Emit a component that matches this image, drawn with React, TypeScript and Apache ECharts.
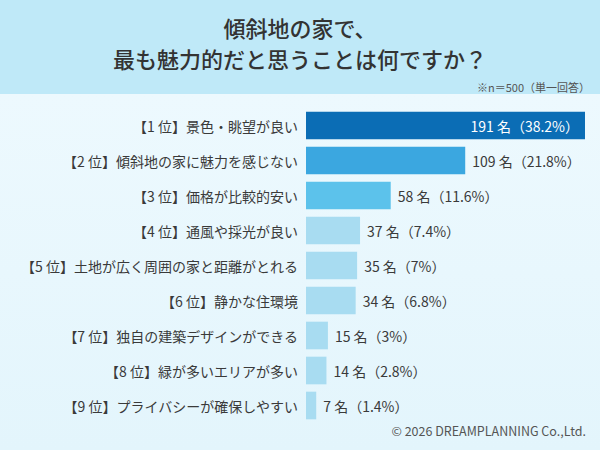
import React, { useEffect, useRef } from "react";
import * as echarts from "echarts";

const categories = [
  "【1 位】景色・眺望が良い",
  "【2 位】傾斜地の家に魅力を感じない",
  "【3 位】価格が比較的安い",
  "【4 位】通風や採光が良い",
  "【5 位】土地が広く周囲の家と距離がとれる",
  "【6 位】静かな住環境",
  "【7 位】独自の建築デザインができる",
  "【8 位】緑が多いエリアが多い",
  "【9 位】プライバシーが確保しやすい",
];
const counts = [191, 109, 58, 37, 35, 34, 15, 14, 7];
const percents = [38.2, 21.8, 11.6, 7.4, 7, 6.8, 3, 2.8, 1.4];
const barColors = [
  "#0b6db5",
  "#3ba7e0",
  "#5cc2eb",
  "#a8dcf1",
  "#a8dcf1",
  "#a8dcf1",
  "#a8dcf1",
  "#a8dcf1",
  "#a8dcf1",
];
const titleLines = ["傾斜地の家で、", "最も魅力的だと思うことは何ですか？"];
const noteText = "※n＝500（単一回答）";
const footerText = "© 2026 DREAMPLANNING Co.,Ltd.";

const FONT = '"Noto Sans CJK JP", "Noto Sans", sans-serif';

export default function App() {
  const ref = useRef<HTMLDivElement>(null);

  useEffect(() => {
    if (!ref.current) return;
    const chart = echarts.init(ref.current, null, { renderer: "svg" });
    const data = counts.map((v, i) => ({
      value: v,
      itemStyle: { color: barColors[i] },
      label:
        i === 0
          ? { position: "insideRight", color: "#ffffff", distance: 6 }
          : { position: "right", color: "#3a3a3a", distance: 7 },
    }));
    chart.setOption({
      animation: false,
      backgroundColor: "#e4f5fc",
      textStyle: { fontFamily: FONT },
      graphic: [
        {
          type: "rect",
          z: -10,
          shape: { x: 0, y: 0, width: 600, height: 94 },
          style: { fill: "#bfe9f8" },
        },
        {
          type: "rect",
          z: -10,
          shape: { x: 0, y: 94, width: 600, height: 356 },
          style: {
            fill: new echarts.graphic.LinearGradient(0, 0, 0, 1, [
              { offset: 0, color: "#edf9fe" },
              { offset: 1, color: "#e3f5fc" },
            ]),
          },
        },
        {
          type: "text",
          x: 300,
          y: 27,
          style: {
            text: titleLines[0],
            font: `500 22px ${FONT}`,
            fill: "#333333",
            align: "center",
            verticalAlign: "middle",
          },
        },
        {
          type: "text",
          x: 300,
          y: 58,
          style: {
            text: titleLines[1],
            font: `500 22px ${FONT}`,
            fill: "#333333",
            align: "center",
            verticalAlign: "middle",
          },
        },
        {
          type: "text",
          x: 590,
          y: 87,
          style: {
            text: noteText,
            font: `11px ${FONT}`,
            fill: "#555555",
            align: "right",
            verticalAlign: "middle",
          },
        },
        {
          type: "text",
          x: 586,
          y: 430,
          style: {
            text: footerText,
            font: `12.5px ${FONT}`,
            fill: "#555555",
            align: "right",
            verticalAlign: "middle",
          },
        },
      ],
      grid: {
        left: 306,
        width: 279,
        top: 108,
        height: 315,
        containLabel: false,
      },
      xAxis: {
        type: "value",
        min: 0,
        max: 191,
        show: false,
      },
      yAxis: {
        type: "category",
        inverse: true,
        data: categories,
        axisLine: { show: false },
        axisTick: { show: false },
        splitLine: { show: false },
        axisLabel: {
          fontFamily: FONT,
          fontSize: 14,
          color: "#3a3a3a",
          margin: 8,
        },
      },
      series: [
        {
          type: "bar",
          data,
          barCategoryGap: "21%",
          label: {
            show: true,
            fontFamily: FONT,
            fontSize: 14,
            formatter: (p: any) =>
              `${counts[p.dataIndex]} 名（${percents[p.dataIndex]}%）`,
          },
        },
      ],
    });
    return () => chart.dispose();
  }, []);

  return (
    <div
      ref={ref}
      style={{ position: "fixed", left: 0, top: 0, width: 600, height: 450 }}
    />
  );
}
